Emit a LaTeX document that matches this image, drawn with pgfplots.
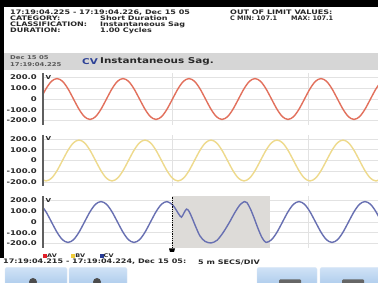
\documentclass[border=0pt]{standalone}
\usepackage{fontspec}
\setmainfont{DejaVu Sans}
\usepackage{graphicx}
\usepackage{pgfplots}
\usepackage{pgfplotstable}
\pgfplotsset{compat=1.18}

\definecolor{wred}{RGB}{226,112,92}
\definecolor{wyel}{RGB}{238,218,140}
\definecolor{wblue}{RGB}{104,112,178}
\definecolor{lred}{RGB}{225,30,40}
\definecolor{lyel}{RGB}{240,205,60}
\definecolor{lblue}{RGB}{40,60,150}
\definecolor{gridc}{RGB}{226,226,226}
\definecolor{shadec}{RGB}{221,219,216}
\definecolor{barc}{RGB}{214,214,214}
\definecolor{txt}{RGB}{40,40,40}
\definecolor{axc}{RGB}{95,95,95}
\definecolor{cvblue}{RGB}{45,65,150}
\definecolor{btntop}{RGB}{208,226,246}
\definecolor{btnbot}{RGB}{160,195,232}

\newcommand{\sx}[2]{\scalebox{1.3}[1]{\fontsize{#1}{#1}\selectfont\bfseries #2}}
\newcommand{\sn}[2]{\scalebox{1.05}[1]{\fontsize{#1}{#1}\selectfont\bfseries #2}}

\pgfplotstableread{
x a b
40.5 0 -165
46 95 -190
51.5 165 -165
57 190 -95
62.5 165 0
68 95 95
73.5 0 165
79 -95 190
84.5 -165 165
90 -190 95
95.5 -165 0
101 -95 -95
106.5 0 -165
112 95 -190
117.5 165 -165
123 190 -95
128.5 165 0
134 95 95
139.5 0 165
145 -95 190
150.5 -165 165
156 -190 95
161.5 -165 0
167 -95 -95
172.5 0 -165
178 95 -190
183.5 165 -165
189 190 -95
194.5 165 0
200 95 95
205.5 0 165
211 -95 190
216.5 -165 165
222 -190 95
227.5 -165 0
233 -95 -95
238.5 0 -165
244 95 -190
249.5 165 -165
255 190 -95
260.5 165 0
266 95 95
271.5 0 165
277 -95 190
282.5 -165 165
288 -190 95
293.5 -165 0
299 -95 -95
304.5 0 -165
310 95 -190
315.5 165 -165
321 190 -95
326.5 165 0
332 95 95
337.5 0 165
343 -95 190
348.5 -165 165
354 -190 95
359.5 -165 0
365 -95 -95
370.5 0 -165
376 95 -190
381.5 165 -165
}\abtab

\pgfplotstableread{
x c
40.5 165
46 95
51.5 0
57 -95
62.5 -165
68 -190
73.5 -165
79 -95
84.5 0
90 95
95.5 165
101 190
106.5 165
112 95
117.5 0
123 -95
128.5 -165
134 -190
139.5 -165
145 -95
150.5 0
156 95
161.5 165
167 190
172.5 160
176 115
179 70
181.5 45
184 85
186.5 120
189 100
192 40
196 -50
200 -130
205 -180
211 -195
217 -170
223 -100
229 -10
235 90
240 160
244.5 190
247 180
250.5 120
254 40
258 -60
262 -145
266 -190
271.5 -165
277 -95
282.5 0
288 95
293.5 165
299 190
304.5 165
310 95
315.5 0
321 -95
326.5 -165
332 -190
337.5 -165
343 -95
348.5 0
354 95
359.5 165
365 190
370.5 165
376 95
381.5 0
}\ctab

\pgfplotsset{panel/.style={
  width=335pt, height=51.6pt, scale only axis,
  xmin=43, xmax=378, ymin=-240, ymax=240,
  axis line style={draw=none},
  major tick length=0pt,
  xtick={172,308}, xticklabels={},
  ytick={-200,-100,0,100,200},
  yticklabels={\sx{6.5}{-200.0},\sx{6.5}{-100.0},\sx{6.5}{0},\sx{6.5}{100.0},\sx{6.5}{200.0}},
  yticklabel style={anchor=east, inner sep=0pt, xshift=-6pt, text=txt},
  grid=major, major grid style={gridc, line width=0.7pt},
  anchor=north west,
}}

\begin{document}
\begin{tikzpicture}[x=1pt,y=-1pt]
\useasboundingbox (0,0) rectangle (378,283);
\fill[white] (0,0) rectangle (378,283);
\fill[black] (0,0) rectangle (378,7);
\fill[black] (0,0) rectangle (4,258);

% header
\begin{scope}[every node/.style={anchor=west, inner sep=0pt, text=txt}]
\node at (10,12.5) {\sx{6.2}{17:19:04.225 - 17:19:04.226, Dec 15 05}};
\node at (10,18.5) {\sx{6.2}{CATEGORY:}};
\node at (10,24.5) {\sx{6.2}{CLASSIFICATION:}};
\node at (10,30.5) {\sx{6.2}{DURATION:}};
\node at (100,18.5) {\sx{6.2}{Short Duration}};
\node at (100,24.5) {\sx{6.2}{Instantaneous Sag}};
\node at (100,30.5) {\sx{6.2}{1.00 Cycles}};
\node at (230,12.5) {\sx{6.2}{OUT OF LIMIT VALUES:}};
\node at (230,18.5) {\sn{6.2}{C MIN: 107.1}};
\node at (291,18.5) {\sn{6.2}{MAX: 107.1}};
\end{scope}

% title bar
\fill[barc] (4,53) rectangle (378,70.5);
\begin{scope}[every node/.style={anchor=west, inner sep=0pt}]
\node[text=black!65] at (10,57.5) {\sx{5.3}{Dec 15 05}};
\node[text=black!65] at (10,64.5) {\sx{5.3}{17:19:04.225}};
\node[text=cvblue] at (82,61.5) {\sx{8}{CV}};
\node[text=txt] at (100,61.5) {\sx{8}{Instantaneous Sag.}};
\end{scope}

% panel A
\begin{axis}[panel, at={(43pt,-73.2pt)}]
\addplot[wred, line width=1.4pt, smooth] table[x=x,y=a]{\abtab};
\node[anchor=north west, inner sep=0pt, text=txt] at (rel axis cs:0,1) [xshift=2.5pt,yshift=-2pt] {\sx{5.5}{V}};
\end{axis}
\draw[axc, line width=1.6pt] (43,73.2) -- (43,124.8);

% panel B
\begin{axis}[panel, at={(43pt,-134.7pt)}]
\addplot[wyel, line width=1.4pt, smooth] table[x=x,y=b]{\abtab};
\node[anchor=north west, inner sep=0pt, text=txt] at (rel axis cs:0,1) [xshift=2.5pt,yshift=-2pt] {\sx{5.5}{V}};
\end{axis}
\draw[axc, line width=1.6pt] (43,134.7) -- (43,186.3);

% panel C
\begin{axis}[panel, at={(43pt,-196.2pt)},
  legend style={draw=none, fill=none, inner sep=0pt, at={(0,-0.16)}, anchor=west,
    legend columns=3, /tikz/every even column/.append style={column sep=14pt},
    nodes={inner sep=0.6pt, text=txt}},
  legend image code/.code={\fill[#1] (0pt,-1.5pt) rectangle (3pt,1.5pt);}]
\addlegendimage{lred}\addlegendentry{\sx{5}{AV}}
\addlegendimage{lyel}\addlegendentry{\sx{5}{BV}}
\addlegendimage{lblue}\addlegendentry{\sx{5}{CV}}
\addplot[fill=shadec, draw=none, forget plot] coordinates {(172,-240) (270,-240) (270,240) (172,240)} -- cycle;
\addplot[wblue, line width=1.4pt, smooth, forget plot] table[x=x,y=c]{\ctab};
\draw[black, densely dotted, line width=0.8pt] (axis cs:172,-240) -- (axis cs:172,240);
\node[anchor=north west, inner sep=0pt, text=txt] at (rel axis cs:0,1) [xshift=2.5pt,yshift=-2pt] {\sx{5.5}{V}};
\end{axis}
\draw[axc, line width=1.6pt] (43,196.2) -- (43,247.8);
\fill[black] (169,248.5) -- (175,248.5) -- (174,252) -- (170,252) -- cycle;

% bottom text
\node[anchor=west, inner sep=0pt, text=txt] at (3,262) {\sx{6.2}{17:19:04.215 - 17:19:04.224, Dec 15 05:}};
\node[anchor=west, inner sep=0pt, text=txt] at (198,262) {\sx{6.2}{5 m SECS/DIV}};

% buttons
\foreach \a/\b in {5/67, 69/127, 257/317, 320/380} {
  \shade[top color=btntop, bottom color=btnbot, rounded corners=2pt] (\a,267.5) rectangle (\b,292);
  \draw[white!60!btnbot, rounded corners=2pt] (\a,267.5) rectangle (\b,292);
}
\fill[black!70] (33,282) circle (4);
\fill[black!70] (97,282) circle (4);
\fill[black!60, rounded corners=1pt] (279,279.5) rectangle (301,285);
\fill[black!60, rounded corners=1pt] (342,279.5) rectangle (364,285);
\end{tikzpicture}
\end{document}
